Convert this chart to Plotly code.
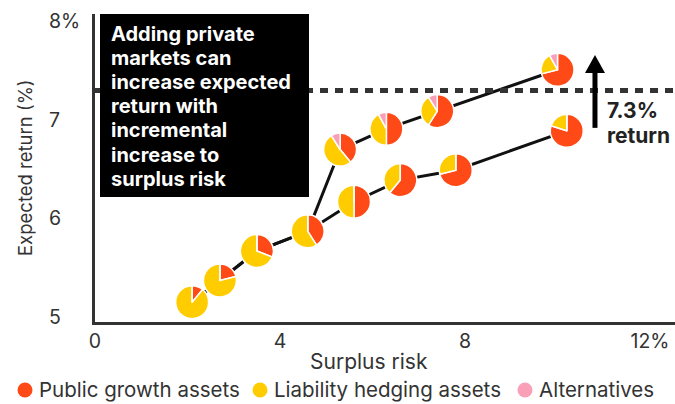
import plotly.graph_objects as go

# Efficient-frontier portfolios: surplus risk (%) vs expected return (%)
base_risk = [2.1, 2.7, 3.5, 4.6]
base_return = [5.15, 5.37, 5.67, 5.87]
base_growth = [11, 21, 31, 41]
base_hedging = [89, 79, 69, 59]
base_alts = [0, 0, 0, 0]

public_risk = [5.6, 6.6, 7.8, 10.2]
public_return = [6.17, 6.39, 6.49, 6.89]
public_growth = [50, 61, 71, 80]
public_hedging = [50, 39, 29, 20]
public_alts = [0, 0, 0, 0]

private_risk = [5.3, 6.3, 7.4, 10.0]
private_return = [6.70, 6.91, 7.09, 7.51]
private_growth = [39, 50, 59, 71]
private_hedging = [52, 42, 32, 21]
private_alts = [9, 8, 9, 8]

asset_classes = ["Public growth assets", "Liability hedging assets", "Alternatives"]
asset_colors = ["#FF4A17", "#FFCC00", "#F9A0B8"]

target_return = 7.3
x_ticks = [0, 4, 8, 12]
x_tick_text = ["0", "4", "8", "12%"]
y_ticks = [5, 6, 7, 8]
y_tick_text = ["5", "6", "7", "8%"]

callout_lines = ["Adding private", "markets can", "increase expected", "return with",
                 "incremental", "increase to", "surplus risk"]
arrow_lines = ["7.3%", "return"]

# Layout geometry
W, H = 675, 404
ML, MR, MT, MB = 95, 0, 14, 82
PW, PH = W - ML - MR, H - MT - MB
X_RANGE = [0, 12.54]
Y_RANGE = [4.949, 8.076]
PIE_R = 16.5
FONT = "Inter"
TEXT = "#333333"


def to_paper(x, y):
    fx = (x - X_RANGE[0]) / (X_RANGE[1] - X_RANGE[0])
    fy = (y - Y_RANGE[0]) / (Y_RANGE[1] - Y_RANGE[0])
    return fx, fy


def px_x(p):
    return (p - ML) / PW


def px_y(p):
    return (MT + PH - p) / PH


fig = go.Figure()

# Frontier lines
fig.add_trace(go.Scatter(
    x=base_risk + public_risk, y=base_return + public_return,
    mode="lines", line=dict(color="#111111", width=3),
    showlegend=False, hoverinfo="skip"))
fig.add_trace(go.Scatter(
    x=base_risk + private_risk, y=base_return + private_return,
    mode="lines", line=dict(color="#111111", width=3),
    showlegend=False, hoverinfo="skip"))

# Allocation pies placed at each portfolio
risks = base_risk + public_risk + private_risk
rets = base_return + public_return + private_return
growth = base_growth + public_growth + private_growth
hedging = base_hedging + public_hedging + private_hedging
alts = base_alts + public_alts + private_alts

for rx, ry, g, h, a in zip(risks, rets, growth, hedging, alts):
    fx, fy = to_paper(rx, ry)
    dx, dy = PIE_R / PW, PIE_R / PH
    fig.add_trace(go.Pie(
        labels=asset_classes, values=[g, h, a],
        marker=dict(colors=asset_colors, line=dict(color="white", width=1.5)),
        sort=False, direction="clockwise", rotation=0,
        textinfo="none", hoverinfo="label+percent", showlegend=False,
        domain=dict(x=[fx - dx, fx + dx], y=[fy - dy, fy + dy])))

shapes = [
    # target return line
    dict(type="line", xref="paper", yref="y", x0=0, x1=1,
         y0=target_return, y1=target_return,
         line=dict(color="#333333", width=5, dash="8px,7px"), layer="above"),
    # callout box
    dict(type="rect", xref="paper", yref="paper",
         x0=px_x(100), x1=px_x(309), y0=px_y(197), y1=px_y(14),
         fillcolor="black", line=dict(width=0), layer="above"),
    # arrow shaft
    dict(type="line", xref="x", yref="y", x0=10.81, x1=10.81, y0=6.92, y1=7.49,
         line=dict(color="black", width=5), layer="above"),
    # arrow head
    dict(type="path", xref="x", yref="y", xsizemode="pixel", ysizemode="pixel",
         xanchor=10.81, yanchor=7.66, path="M0,0 L-10,-18 L10,-18 Z",
         fillcolor="black", line=dict(width=0), layer="above"),
]

annotations = []

# callout text, one line per annotation for tight leading
for i, line in enumerate(callout_lines):
    annotations.append(dict(
        text=line, xref="paper", yref="paper", x=px_x(109), y=px_y(33.5 + 24.2 * i),
        xanchor="left", yanchor="middle", showarrow=False,
        font=dict(family=FONT, size=20, color="white", weight="bold")))

for i, line in enumerate(arrow_lines):
    annotations.append(dict(
        text=line, xref="paper", yref="paper", x=px_x(605), y=px_y(110 + 25 * i),
        xanchor="left", yanchor="middle", showarrow=False,
        font=dict(family=FONT, size=21, color="#222222", weight="bold")))

annotations += [
    dict(text="Surplus risk", xref="paper", yref="paper", x=px_x(368.5), y=px_y(361),
         xanchor="center", yanchor="middle", showarrow=False,
         font=dict(family=FONT, size=21, color=TEXT)),
    dict(text="Expected return (%)", xref="paper", yref="paper", x=px_x(25), y=0.5,
         xanchor="center", yanchor="middle", textangle=-90, showarrow=False,
         font=dict(family=FONT, size=18.5, color=TEXT)),
]

# y tick labels, left-aligned
for v, t in zip(y_ticks, y_tick_text):
    annotations.append(dict(text=t, xref="paper", yref="y", x=px_x(47), y=v,
                            xanchor="left", yanchor="middle", showarrow=False,
                            font=dict(family=FONT, size=19.5, color=TEXT)))

# Legend row
LEGEND_Y = 389
legend_dot_x = [25, 260, 525]
for cx, name, col in zip(legend_dot_x, asset_classes, asset_colors):
    shapes.append(dict(type="circle", xref="paper", yref="paper",
                       xsizemode="pixel", ysizemode="pixel",
                       xanchor=px_x(cx), yanchor=px_y(LEGEND_Y + 1),
                       x0=-7.5, x1=7.5, y0=-7.5, y1=7.5,
                       fillcolor=col, line=dict(width=0)))
    annotations.append(dict(text=name, xref="paper", yref="paper",
                            x=px_x(cx + 12), y=px_y(LEGEND_Y),
                            xanchor="left", yanchor="middle", showarrow=False,
                            font=dict(family=FONT, size=20.5, color=TEXT)))

fig.update_layout(
    width=W, height=H,
    margin=dict(l=ML, r=MR, t=MT, b=MB),
    paper_bgcolor="white", plot_bgcolor="white",
    shapes=shapes, annotations=annotations,
    showlegend=False,
    xaxis=dict(range=X_RANGE, tickvals=x_ticks, ticktext=x_tick_text,
               showgrid=False, zeroline=False, showline=True,
               linecolor="#333333", linewidth=3, ticks="",
               tickfont=dict(family=FONT, size=19.5, color=TEXT)),
    yaxis=dict(range=Y_RANGE, tickvals=y_ticks, showticklabels=False,
               showgrid=False, zeroline=False, showline=True,
               linecolor="#333333", linewidth=3, ticks=""),
)

fig.write_html("out.html")
